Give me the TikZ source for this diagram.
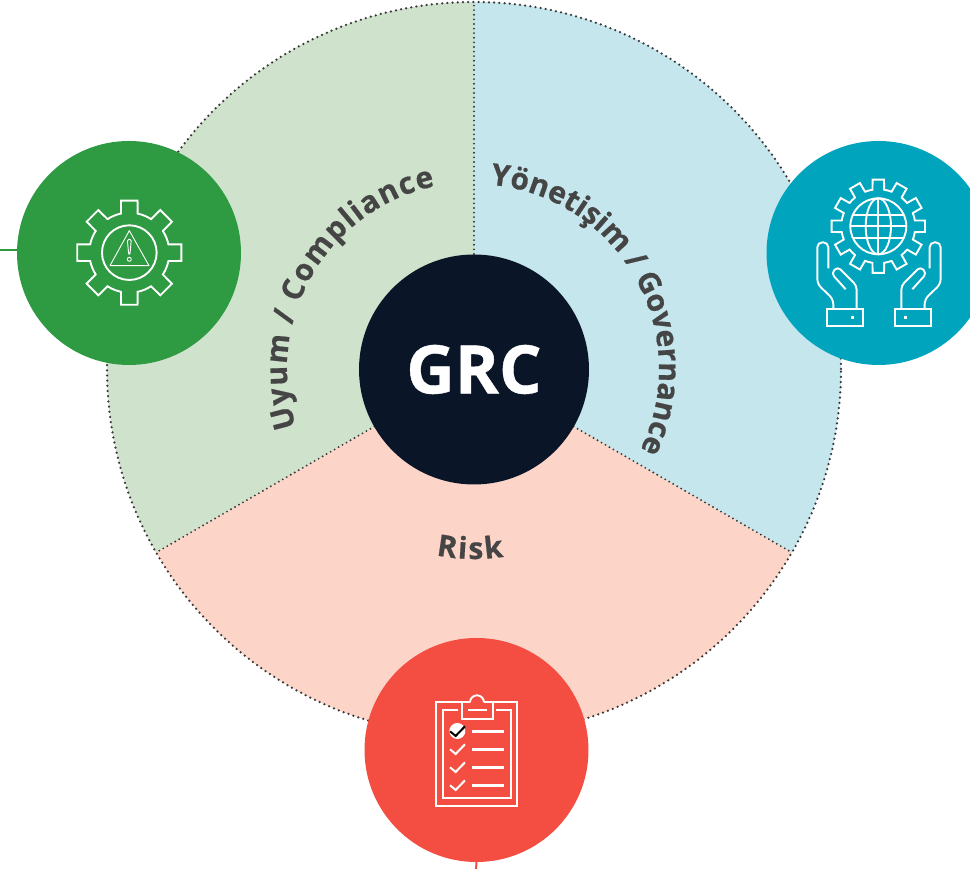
\documentclass[tikz,border=0pt]{standalone}
\usepackage{fontspec}
\setmainfont[BoldFeatures={FakeBold=0.6}]{Open Sans}
\usetikzlibrary{decorations.text}
\definecolor{cgreen}{HTML}{2E9A42}
\definecolor{cblue}{HTML}{00A4BD}
\definecolor{cred}{HTML}{F34E41}
\definecolor{cdark}{HTML}{0A1628}
\definecolor{lgreen}{HTML}{CFE2CC}
\definecolor{lblue}{HTML}{C5E6EC}
\definecolor{lred}{HTML}{FDD5C8}
\definecolor{ctext}{HTML}{454545}
\definecolor{cdot}{HTML}{383838}
\tikzset{
  x=1pt,y=1pt,
  disc/.style={circle,inner sep=0pt,minimum size=224pt,draw=none},
  rimline/.style={draw=cdot,line width=2.5pt,line cap=round,dash pattern=on 0pt off 5.2pt},
  divline/.style={draw=cdot,line width=2.1pt,line cap=round,dash pattern=on 0pt off 4.6pt},
  ico/.style={draw=white,line width=1.9pt,line join=miter},
  icothin/.style={draw=white,line width=0.9pt,line join=round},
}
% \gearicon{cx}{cy}{teeth}{Rout}{Rroot}{half angle out}{half angle root}
\newcommand{\gearicon}[7]{%
  \begin{scope}[shift={(#1,#2)}]
    \foreach \k in {1,...,#3}{%
      \pgfmathsetmacro{\aa}{\k*360/#3}%
      \pgfmathsetmacro{\bb}{\aa+360/#3-#7}%
      \pgfmathsetmacro{\cc}{\aa+#7}%
      \draw[ico,line cap=round] (\aa-#7:#5) -- (\aa-#6:#4) -- (\aa+#6:#4) -- (\cc:#5) arc[start angle=\cc,end angle=\bb,radius=#5];
    }
  \end{scope}}
\begin{document}
\begin{tikzpicture}
\useasboundingbox (0,0) rectangle (970,869);
% sectors
\fill[lgreen] (474,500) -- ++(90:367) arc[start angle=90,end angle=210,radius=367] -- cycle;
\fill[lblue] (474,500) -- ++(90:367) arc[start angle=90,end angle=-30,radius=367] -- cycle;
\fill[lred] (474,500) -- ++(210:367) arc[start angle=210,end angle=330,radius=367] -- cycle;
\draw[rimline] (474,500) circle[radius=367];
\draw[divline] (474,500) -- ++(90:366);
\draw[divline] (474,500) -- ++(210:366);
\draw[divline] (474,500) -- ++(330:366);
% connectors stubs
\coordinate (gl) at (0,619);
\coordinate (rb) at (476,0);
\node[disc,fill=cgreen] (green) at (129,616) {};
\node[disc,fill=cblue] (blue) at (878.5,616) {};
\node[disc,fill=cred] (redc) at (476.5,119) {};
\draw[cgreen,line width=2pt] (gl) -- (gl -| green.west);
\draw[cred,line width=2pt] (rb) -- (redc.south);
\node[circle,fill=cdark,inner sep=0pt,minimum size=230pt,text=white,font=\fontsize{67}{67}\selectfont\bfseries] (grc) at (474,499.5) {\raisebox{-1.5pt}{GRC}};
% curved labels
\path[decorate,decoration={text along path,text align={fit to path},
  text={|\fontsize{30}{30}\selectfont\bfseries\color{ctext}|Uyum / Compliance}}]
  (474,500) ++(198:187) arc[start angle=198,end angle=102,radius=187];
\path[decorate,decoration={text along path,text align={fit to path},
  text={|\fontsize{30}{30}\selectfont\bfseries\color{ctext}|Yönetişim / Governance}}]
  (474,500) ++(85:185) arc[start angle=85,end angle=-26,radius=185];
\path[decorate,decoration={text along path,text align={fit to path},
  text={|\fontsize{30}{30}\selectfont\bfseries\color{ctext}|Risk}}]
  (474,500) ++(-101.5:190) arc[start angle=-101.5,end angle=-81,radius=190];
% green icon
\gearicon{129.3}{616.3}{8}{52.7}{40}{9}{12}
\begin{scope}[shift={(0,739)},x=0.3333pt,y=-0.3333pt]
  \draw[ico] (388,368) circle[radius=82];
  \draw[icothin] (388,302) -- (330,407) -- (447,407) -- cycle;
  \draw[icothin,rounded corners=1.5pt] (382,328) -- (394,328) -- (390,372) -- (386,372) -- cycle;
  \draw[icothin] (388,388) circle[radius=6];
\end{scope}
% blue icon
\gearicon{878.3}{642.7}{12}{47}{37}{7}{9}
\begin{scope}[shift={(760,739)},x=0.3333pt,y=-0.3333pt]
  \draw[ico] (355,289) circle[radius=84];
  \draw[ico] (355,289) ellipse[x radius=38,y radius=84];
  \draw[ico] (355,205) -- (355,373);
  \draw[ico] (271,289) -- (439,289);
  \draw[ico] (278,255) -- (432,255);
  \draw[ico] (278,323) -- (432,323);
  \foreach \sx/\off in {1/0,-1/714}{
    \begin{scope}[shift={(\off,0)},xscale=\sx]
      \draw[ico,rounded corners=5pt] (205,415) -- (205,337) -- (172,337) -- (172,462) -- (220,508) -- (220,538);
      \draw[ico,rounded corners=4pt] (257,478) -- (214,430) -- (233,410) -- (290,467) -- (290,538);
      \draw[ico] (202,538) rectangle (308,588);
      \fill[white] (273,558) rectangle (282,567);
    \end{scope}
  }
\end{scope}
% red icon
\begin{scope}[shift={(360,239)},x=0.3333pt,y=-0.3333pt]
  \draw[ico] (330,217) -- (228,217) -- (228,527) -- (472,527) -- (472,217) -- (372,217);
  \draw[ico] (295,240) -- (250,240) -- (250,505) -- (452,505) -- (452,240) -- (408,240);
  \draw[ico] (305,217) -- (305,268) -- (400,268) -- (400,217);
  \draw[ico] (330,217) arc[start angle=180,end angle=360,radius=21];
  \draw[ico] (325,241) -- (380,241);
  \fill[white] (292,303) circle[radius=24];
  \draw[black,line width=2pt] (270,304) -- (287,318) -- (315,289);
  \foreach \yy in {358,412,466}{
    \draw[ico,line width=2pt] (270,\yy) -- (287,\yy+14) -- (315,\yy-15);
  }
  \foreach \yy in {304,358,412,466}{
    \draw[ico,line width=2.8pt] (336,\yy) -- (432,\yy);
  }
\end{scope}
\end{tikzpicture}
\end{document}
